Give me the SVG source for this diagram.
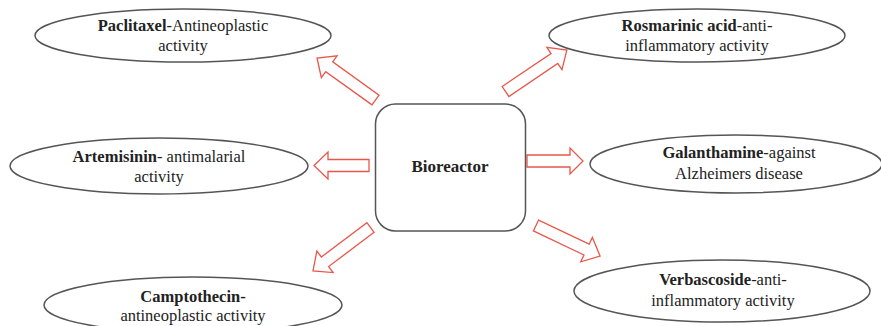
<svg xmlns="http://www.w3.org/2000/svg" width="881" height="326" viewBox="0 0 881 326">
<style>
.ell{fill:#fff;stroke:#555;stroke-width:1.5}
.box{fill:#fff;stroke:#555;stroke-width:1.5}
.arr{fill:#fff;stroke:#e8574a;stroke-width:1.3;stroke-linejoin:miter}
text{font-family:"Liberation Serif","Times New Roman",serif;font-size:16.5px;fill:#222;text-anchor:middle}
.b{font-weight:bold}
</style>
<rect width="881" height="326" fill="#fff"/>
<g id="connectors">
<path class="arr" transform="translate(375.5,100) rotate(215.7)" d="M0,-6 H57 V-13.5 L72,0 L57,13.5 V6 H0 Z"/>
<path class="arr" transform="translate(505.5,91.5) rotate(-34)" d="M0,-6 H59 V-13.5 L74,0 L59,13.5 V6 H0 Z"/>
<path class="arr" transform="translate(369,165.5) rotate(180)" d="M0,-6 H41 V-13.5 L55,0 L41,13.5 V6 H0 Z"/>
<path class="arr" transform="translate(527,161)" d="M0,-6 H43 V-13 L56,0 L43,13 V6 H0 Z"/>
<path class="arr" transform="translate(370.5,227.5) rotate(143)" d="M0,-6 H57 V-13.5 L72,0 L57,13.5 V6 H0 Z"/>
<path class="arr" transform="translate(536,225.5) rotate(25.5)" d="M0,-6 H56 V-13.5 L71,0 L56,13.5 V6 H0 Z"/>
</g>
<g id="bioreactor">
<rect class="box" x="375.5" y="104" width="150" height="127" rx="20" ry="20"/>
<text class="b" x="450" y="172" style="font-size:17px">Bioreactor</text>
</g>
<g id="paclitaxel">
<ellipse class="ell" cx="183" cy="35.5" rx="148" ry="26.5"/>
<text x="183" y="31"><tspan class="b">Paclitaxel</tspan>-Antineoplastic</text>
<text x="183" y="51">activity</text>
</g>
<g id="rosmarinic">
<ellipse class="ell" cx="697" cy="35.5" rx="148" ry="26.5"/>
<text x="697" y="31"><tspan class="b">Rosmarinic acid</tspan>-anti-</text>
<text x="697" y="51">inflammatory activity</text>
</g>
<g id="artemisinin">
<ellipse class="ell" cx="159" cy="166" rx="149" ry="28"/>
<text x="159" y="162"><tspan class="b">Artemisinin</tspan>- antimalarial</text>
<text x="159" y="182">activity</text>
</g>
<g id="galanthamine">
<ellipse class="ell" cx="736" cy="164" rx="146" ry="29"/>
<text x="739" y="158"><tspan class="b">Galanthamine</tspan>-against</text>
<text x="739" y="179">Alzheimers disease</text>
</g>
<g id="camptothecin">
<ellipse class="ell" cx="193" cy="305" rx="149" ry="28"/>
<text x="193" y="302" class="b">Camptothecin-</text>
<text x="193" y="321">antineoplastic activity</text>
</g>
<g id="verbascoside">
<ellipse class="ell" cx="722" cy="291" rx="148" ry="31"/>
<text x="723" y="285"><tspan class="b">Verbascoside</tspan>-anti-</text>
<text x="723" y="306">inflammatory activity</text>
</g>
</svg>
